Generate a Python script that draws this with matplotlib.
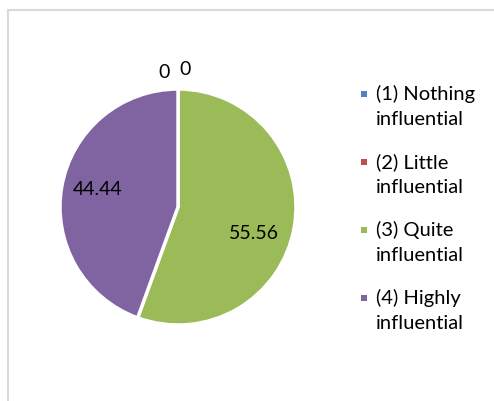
import numpy as np
import matplotlib
matplotlib.use("Agg")
import matplotlib.pyplot as plt
from matplotlib.patches import Rectangle

# ---------------- datos ----------------
categorias = ["(1) Nothing\ninfluential", "(2) Little\ninfluential",
              "(3) Quite\ninfluential", "(4) Highly\ninfluential"]
valores = [0, 0, 55.56, 44.44]
etiquetas = ["0", "0", "55.56", "44.44"]
colores = ["#4F81BD", "#C0504D", "#9BBB59", "#8064A2"]

# posicion de las etiquetas (en radios del pie)
pos_etiquetas = [(-0.12, 1.15), (0.06, 1.17), (0.645, -0.22), (-0.68, 0.16)]

plt.rcParams['font.family'] = ['Lato', 'DejaVu Sans']

W, H = 494, 402
fig = plt.figure(figsize=(W / 100, H / 100), dpi=100)

# marco del grafico
fig.patches.append(Rectangle((8 / W, -0.1), 1.2, (H - 11) / H + 0.1,
                             transform=fig.transFigure, fill=False,
                             edgecolor="#D9D9D9", linewidth=1.5))

# pie
cx, cy, r = 178, 208, 118
ax = fig.add_axes([(cx - r) / W, (H - cy - r) / H, 2 * r / W, 2 * r / H])
wedges, _ = ax.pie(valores, colors=colores, startangle=90, counterclock=False,
                   wedgeprops=dict(edgecolor="white", linewidth=2.5))
ax.set_xlim(-1, 1)
ax.set_ylim(-1, 1)
ax.set_aspect("equal")
ax.axis("off")

# etiquetas de valor
for lab, (x, y) in zip(etiquetas, pos_etiquetas):
    ax.text(x, y, lab, ha="center", va="center", fontsize=14, color="black")

# leyenda (a mano, para controlar el interlineado)
paso = 68
for i, (cat, c) in enumerate(zip(categorias, colores)):
    y0 = 95 + i * paso
    fig.patches.append(Rectangle(((364 - 3) / W, (H - y0 - 3) / H), 6 / W, 6 / H,
                                 transform=fig.transFigure, facecolor=c,
                                 edgecolor="none"))
    fig.text(376 / W, 1 - (y0 - 10) / H, cat, ha="left", va="top",
             fontsize=14.5, linespacing=1.6)

fig.savefig("out.png", dpi=100)
